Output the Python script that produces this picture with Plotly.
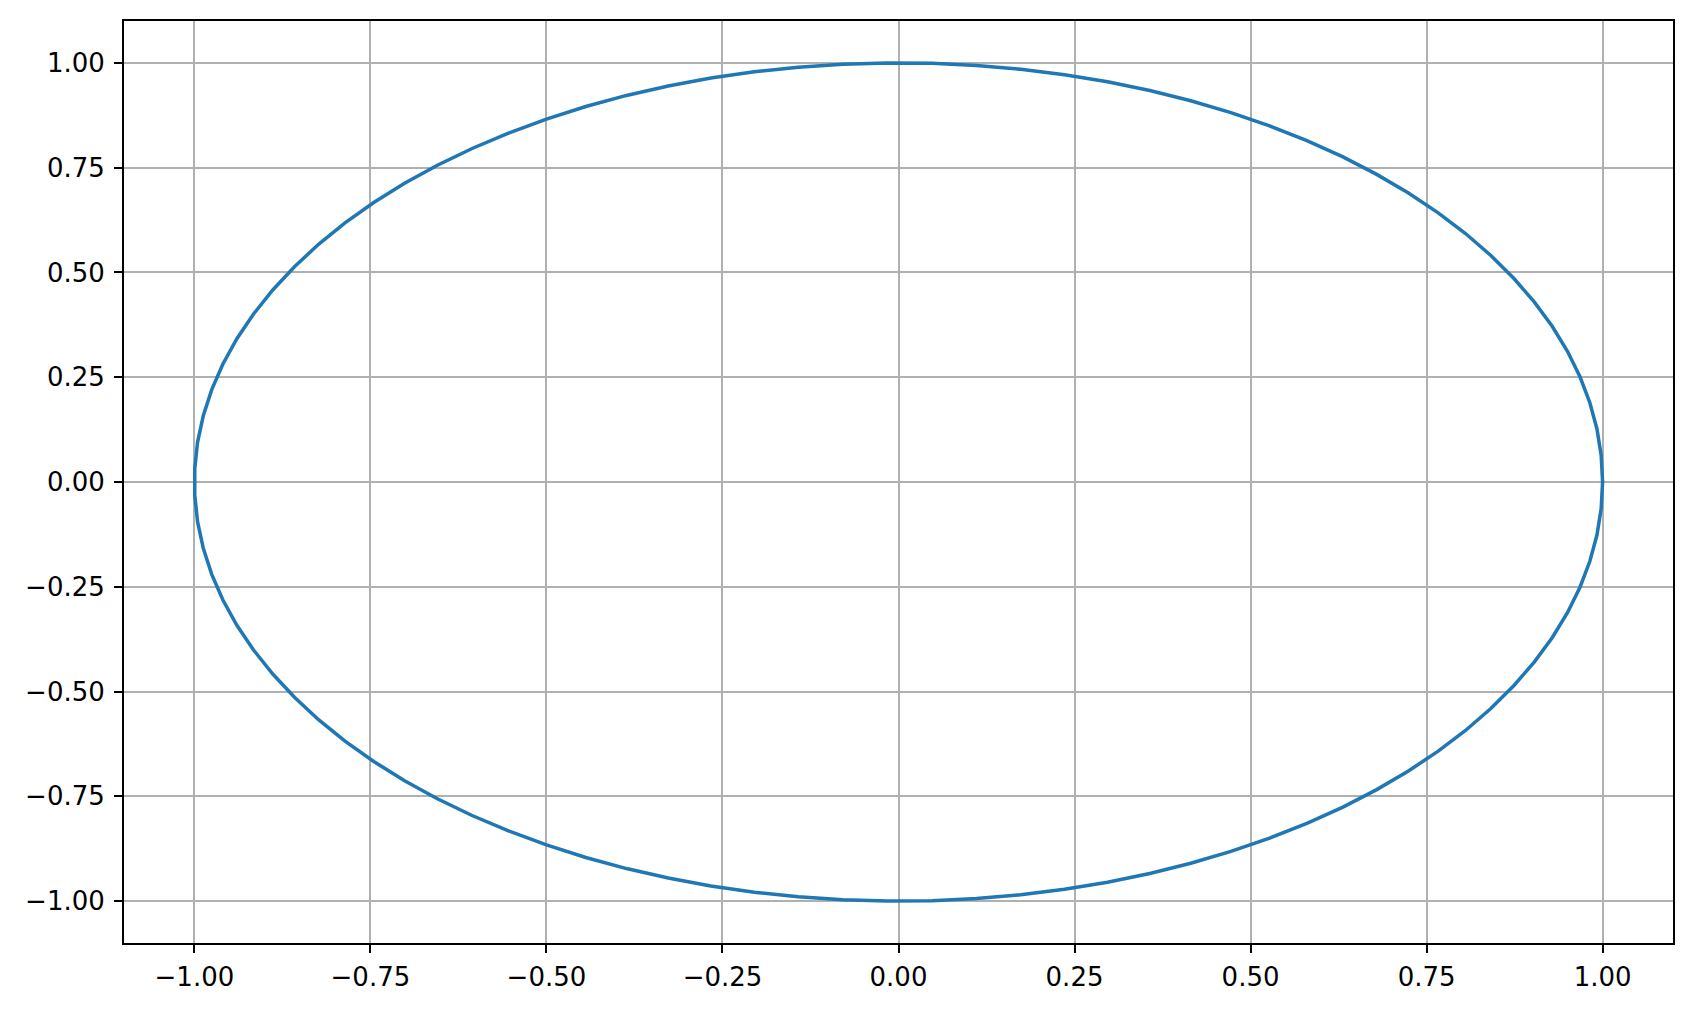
import plotly.graph_objects as go

# Points (100 samples)
x_vals = [1.0, 0.998, 0.992, 0.9819, 0.9679, 0.9501, 0.9284, 0.9029, 0.8738, 0.8413,
          0.8053, 0.766, 0.7237, 0.6785, 0.6305, 0.58, 0.5271, 0.4721, 0.4151, 0.3569,
          0.2969, 0.2358, 0.1736, 0.1108, 0.0476, -0.0159, -0.0792, -0.1423, -0.2048, -0.2665,
          -0.3271, -0.3863, -0.4441, -0.5, -0.5539, -0.6056, -0.6549, -0.7015, -0.7453, -0.7861,
          -0.8237, -0.8579, -0.8887, -0.916, -0.9397, -0.9595, -0.9754, -0.9874, -0.9955, -0.9995,
          -0.9995, -0.9955, -0.9874, -0.9754, -0.9595, -0.9397, -0.916, -0.8887, -0.8579, -0.8237,
          -0.7861, -0.7453, -0.7015, -0.6549, -0.6056, -0.5539, -0.5, -0.4441, -0.3863, -0.3271,
          -0.2665, -0.2048, -0.1423, -0.0792, -0.0159, 0.0476, 0.1108, 0.1736, 0.2358, 0.2969,
          0.3569, 0.4151, 0.4721, 0.5271, 0.58, 0.6305, 0.6785, 0.7237, 0.766, 0.8053,
          0.8413, 0.8738, 0.9029, 0.9284, 0.9501, 0.9679, 0.9819, 0.992, 0.998, 1.0]

y_vals = [0.0, 0.0634, 0.1266, 0.1893, 0.2511, 0.312, 0.3717, 0.4298, 0.4862, 0.5406,
          0.5929, 0.6428, 0.6901, 0.7346, 0.7762, 0.8146, 0.8498, 0.8815, 0.9098, 0.9342,
          0.9549, 0.9718, 0.9848, 0.9938, 0.9989, 0.9999, 0.9969, 0.9898, 0.9788, 0.9638,
          0.945, 0.9224, 0.896, 0.866, 0.8326, 0.7958, 0.7557, 0.7127, 0.6668, 0.6182,
          0.5671, 0.5137, 0.4582, 0.4009, 0.342, 0.2817, 0.2203, 0.158, 0.0951, 0.0317,
          -0.0317, -0.0951, -0.158, -0.2203, -0.2817, -0.342, -0.4009, -0.4582, -0.5137, -0.5671,
          -0.6182, -0.6668, -0.7127, -0.7557, -0.7958, -0.8326, -0.866, -0.896, -0.9224, -0.945,
          -0.9638, -0.9788, -0.9898, -0.9969, -0.9999, -0.9989, -0.9938, -0.9848, -0.9718, -0.9549,
          -0.9342, -0.9098, -0.8815, -0.8498, -0.8146, -0.7762, -0.7346, -0.6901, -0.6428, -0.5929,
          -0.5406, -0.4862, -0.4298, -0.3717, -0.312, -0.2511, -0.1893, -0.1266, -0.0634, 0.0]

tick_vals = [-1.0, -0.75, -0.5, -0.25, 0.0, 0.25, 0.5, 0.75, 1.0]

fig = go.Figure()
fig.add_trace(go.Scatter(x=x_vals, y=y_vals, mode="lines",
                         line=dict(color="#1f77b4", width=3.5), showlegend=False))

axis_common = dict(
    range=[-1.1, 1.1],
    tickvals=tick_vals,
    tickformat=".2f",
    showgrid=True, gridcolor="#b0b0b0", gridwidth=2,
    zeroline=False,
    showline=True, linecolor="black", linewidth=2, mirror=True,
    ticks="outside", ticklen=8, tickwidth=2, tickcolor="black",
    tickfont=dict(family="DejaVu Sans", size=26, color="black"),
)

fig.update_layout(
    width=1686, height=1003,
    margin=dict(l=116, r=21, t=11, b=68),
    paper_bgcolor="white", plot_bgcolor="white",
    xaxis=dict(axis_common, ticklabelstandoff=2),
    yaxis=dict(axis_common, ticklabelstandoff=4),
)

fig.write_html("out.html")
